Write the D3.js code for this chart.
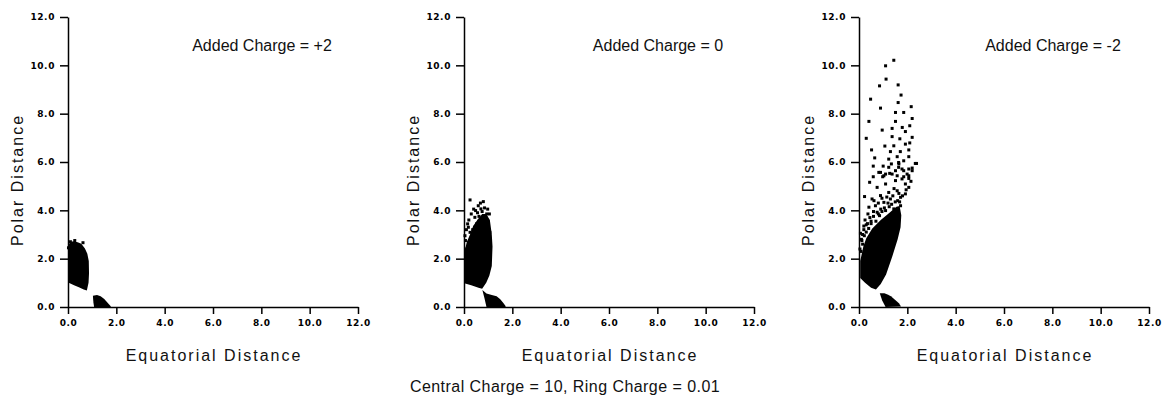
<!DOCTYPE html>
<html>
<head>
<meta charset="utf-8">
<script src="https://cdn.jsdelivr.net/npm/d3@7"></script>
<style>
  body { margin: 0; background: #fff; }
  .tickText { font-family: "DejaVu Sans", sans-serif; font-size: 9px; font-weight: bold; letter-spacing: 0.6px; }
  .title { font-family: "Liberation Sans", Arial, sans-serif; font-size: 16px; fill: #111; }
  .axisTitle { letter-spacing: 2px; }
</style>
</head>
<body>
<div id="chart"></div>
<script>
// tick values shared by every panel
var xTicks = [0, 2, 4, 6, 8, 10, 12];
var yTicks = [0, 2, 4, 6, 8, 10, 12];

var chargeLabels = ["Added Charge = +2", "Added Charge = 0", "Added Charge = -2"];
var xTitle = "Equatorial Distance";
var yTitle = "Polar Distance";
var footNote = "Central Charge = 10, Ring Charge = 0.01";

// dense regions, read as outlines [equatorial, polar]
var blobsPlus2 = [
  [[0.04, 2.62], [0.2, 2.72], [0.4, 2.68], [0.55, 2.62], [0.7, 2.42], [0.8, 2.2], [0.86, 1.9], [0.87, 1.4],
   [0.85, 1.0], [0.78, 0.68], [0.65, 0.72], [0.45, 0.82], [0.25, 0.9], [0.03, 1.0], [0.02, 1.5], [0.03, 2.2]],
  [[1.03, 0.47], [1.2, 0.5], [1.35, 0.45], [1.5, 0.33], [1.62, 0.2], [1.75, 0.05], [1.78, 0.0], [1.08, 0.0], [1.05, 0.2]]
];
var blobsZero = [
  [[0.02, 2.3], [0.12, 2.7], [0.25, 3.0], [0.38, 3.35], [0.55, 3.6], [0.75, 3.85], [0.92, 3.85], [1.07, 3.6],
   [1.15, 3.0], [1.18, 2.5], [1.15, 1.7], [1.05, 1.3], [0.92, 1.0], [0.75, 0.76], [0.6, 0.8], [0.3, 0.9], [0.01, 0.98]],
  [[0.76, 0.7], [0.93, 0.56], [1.15, 0.5], [1.35, 0.44], [1.5, 0.32], [1.62, 0.18], [1.72, 0.04], [1.72, 0.0],
   [0.93, 0.0], [0.85, 0.35]]
];
var blobsMinus2 = [
  [[0.05, 1.2], [0.05, 1.9], [0.18, 2.5], [0.3, 2.85], [0.55, 3.25], [0.9, 3.6], [1.2, 3.85], [1.55, 4.15], [1.68, 4.18],
   [1.75, 3.8], [1.72, 3.3], [1.6, 2.8], [1.38, 2.1], [1.12, 1.35], [0.9, 0.95], [0.7, 0.72], [0.5, 0.8], [0.25, 1.0]],
  [[0.86, 0.57], [1.05, 0.57], [1.18, 0.52], [1.32, 0.44], [1.44, 0.34], [1.56, 0.24], [1.65, 0.16], [1.74, 0.02],
   [1.1, 0.0], [0.96, 0.27]]
];

// scattered particles outside the dense regions [equatorial, polar]
var dotsPlus2 = [
  [0.1, 2.7], [0.28, 2.75], [0.62, 2.66], [0.02, 2.45]
];
var dotsZero = [
  [0.25, 4.43], [0.8, 4.36], [0.59, 4.19], [0.7, 4.06], [0.48, 3.99], [0.94, 3.85], [0.15, 3.44], [0.45, 3.71],
  [0.73, 3.64], [0.52, 3.44], [0.87, 3.44], [1.0, 3.51], [0.04, 2.95], [0.25, 3.09], [0.66, 3.23], [0.84, 3.16],
  [1.07, 3.09], [0.39, 2.88], [0.59, 2.95], [0.94, 2.88], [0.21, 2.68], [0.45, 2.61], [0.73, 2.75], [1.07, 2.68],
  [0.11, 2.4], [0.32, 2.33], [0.59, 2.47], [0.87, 2.4], [0.25, 2.06], [0.62, 3.55], [0.78, 3.35], [0.36, 3.2],
  [0.5, 2.72], [0.15, 2.2], [0.68, 2.88], [0.9, 3.7], [0.4, 4.05], [0.56, 3.9], [0.68, 4.3], [0.85, 4.1],
  [0.3, 3.85], [0.2, 3.6], [0.1, 3.2], [0.35, 3.0], [0.75, 3.95], [0.62, 3.75], [0.28, 2.8], [0.45, 3.3],
  [1.05, 3.85], [0.98, 4.05], [0.06, 2.75], [0.18, 3.3]
];
var dotsMinus2 = [
  [1.44, 10.21], [1.1, 9.98], [1.12, 9.43], [0.85, 9.15], [1.62, 9.19], [1.74, 8.77], [0.48, 8.6], [1.62, 8.46],
  [0.89, 8.23], [2.16, 8.29], [1.51, 8.05], [1.85, 8.05], [2.2, 7.8], [0.41, 7.68], [1.51, 7.68], [2.1, 7.5],
  [0.96, 7.32], [1.37, 7.39], [1.79, 7.43], [1.92, 7.26], [2.2, 7.02], [0.3, 6.98], [1.37, 7.05], [1.69, 6.96],
  [2.1, 6.79], [1.92, 6.74], [1.07, 6.66], [1.44, 6.67], [0.52, 6.5], [1.3, 6.43], [1.71, 6.43], [2.06, 6.5],
  [0.65, 6.17], [1.23, 6.12], [1.58, 6.22], [1.85, 6.05], [2.06, 6.22], [2.33, 5.94], [0.59, 5.83], [1.0, 5.83],
  [1.34, 5.92], [1.64, 5.98], [1.64, 5.78], [2.2, 5.75], [0.82, 5.57], [1.1, 5.5], [1.27, 5.53], [1.51, 5.64],
  [1.85, 5.64], [2.06, 5.71], [0.59, 5.39], [0.98, 5.39], [1.58, 5.43], [1.85, 5.39], [2.06, 5.32],
  [0.89, 5.57], [1.23, 5.78], [1.65, 5.92], [1.78, 5.71], [2.38, 5.94], [0.44, 5.16], [1.03, 5.43], [1.37, 5.5],
  [1.99, 5.5], [2.2, 5.64], [0.23, 4.57], [0.75, 4.95], [1.1, 5.09], [1.51, 5.23], [1.78, 5.3], [2.06, 5.43],
  [0.54, 4.47], [0.89, 4.61], [1.23, 4.74], [1.58, 4.81], [1.92, 5.09], [2.06, 4.95], [0.41, 4.13], [0.68, 4.19],
  [1.03, 4.33], [1.3, 4.47], [1.72, 4.54], [1.92, 4.68], [0.37, 3.85], [0.75, 3.92], [1.1, 3.99], [1.44, 4.06],
  [1.72, 4.19], [0.06, 3.05], [0.2, 3.2], [0.3, 3.4], [0.5, 3.55], [0.85, 3.78], [0.12, 2.75], [0.04, 2.4],
  [0.62, 4.4], [0.95, 4.5], [1.45, 4.9], [1.2, 4.3],
  [0.25, 3.6], [0.35, 3.45], [0.45, 3.7], [0.6, 3.75], [0.7, 3.55], [0.2, 3.35], [0.15, 3.0], [0.3, 3.1],
  [0.4, 3.25], [0.1, 2.8], [0.22, 2.95], [0.5, 3.45], [0.8, 3.85], [0.95, 3.95], [1.05, 4.1], [1.25, 4.15],
  [1.35, 4.25], [1.5, 4.35], [1.6, 4.4], [1.68, 4.35], [0.9, 4.05], [0.6, 3.95], [0.15, 2.6], [0.08, 2.3],
  [1.8, 4.6], [1.65, 4.7], [1.4, 4.6], [0.8, 4.3], [1.15, 4.55], [1.95, 4.85], [2.15, 5.2]
];

var panels = [
  { label: chargeLabels[0], blobs: blobsPlus2, dots: dotsPlus2 },
  { label: chargeLabels[1], blobs: blobsZero, dots: dotsZero },
  { label: chargeLabels[2], blobs: blobsMinus2, dots: dotsMinus2 }
];

// layout
var width = 1172;
var height = 402;
var panelLeft = [68, 464, 859];
var plotSize = 290;
var plotTop = 17;
var plotBottom = 307;
var dotSize = 3;

var svg = d3.select("#chart")
            .append("svg")
            .attr("width", width)
            .attr("height", height);

panels.forEach(function(p, i) {
  var left = panelLeft[i];

  var xScale = d3.scaleLinear()
                 .domain([0, 12])
                 .range([left, left + plotSize]);
  var yScale = d3.scaleLinear()
                 .domain([0, 12])
                 .range([plotBottom, plotTop]);

  var xAxis = d3.axisBottom(xScale)
                .tickValues(xTicks)
                .tickFormat(d3.format(".1f"))
                .tickSize(7)
                .tickSizeOuter(0)
                .tickPadding(6);
  var yAxis = d3.axisLeft(yScale)
                .tickValues(yTicks)
                .tickFormat(d3.format(".1f"))
                .tickSize(8)
                .tickSizeOuter(0)
                .tickPadding(5);

  var gx = svg.append("g")
              .attr("transform", `translate(0,${plotBottom})`)
              .call(xAxis);
  var gy = svg.append("g")
              .attr("transform", `translate(${left},0)`)
              .call(yAxis);

  [gx, gy].forEach(function(g) {
    g.selectAll("path, line").attr("stroke", "#000").attr("stroke-width", 1.5);
    g.selectAll("text").attr("class", "tickText").attr("fill", "#000");
  });

  // dense particle regions
  var outline = d3.line()
                  .x(d => xScale(d[0]))
                  .y(d => yScale(d[1]))
                  .curve(d3.curveLinearClosed);

  svg.append("g")
     .selectAll("path")
     .data(p.blobs)
     .enter()
     .append("path")
     .attr("d", outline)
     .attr("fill", "#000");

  // loose particles
  svg.append("g")
     .selectAll("rect")
     .data(p.dots)
     .enter()
     .append("rect")
     .attr("x", d => xScale(d[0]) - dotSize / 2)
     .attr("y", d => yScale(d[1]) - dotSize / 2)
     .attr("width", dotSize)
     .attr("height", dotSize)
     .attr("fill", "#000");

  // titles
  svg.append("text")
     .attr("class", "title")
     .attr("x", left + 194)
     .attr("y", 51)
     .attr("text-anchor", "middle")
     .text(p.label);

  svg.append("text")
     .attr("class", "title axisTitle")
     .attr("x", left + plotSize / 2 + 1)
     .attr("y", 361)
     .attr("text-anchor", "middle")
     .text(xTitle);

  svg.append("text")
     .attr("class", "title axisTitle")
     .attr("transform", `translate(${left - 45},180)rotate(-90)`)
     .attr("text-anchor", "middle")
     .text(yTitle);
});

svg.append("text")
   .attr("class", "title")
   .attr("x", 565)
   .attr("y", 392)
   .attr("text-anchor", "middle")
   .style("letter-spacing", "0.45px")
   .text(footNote);
</script>
</body>
</html>
